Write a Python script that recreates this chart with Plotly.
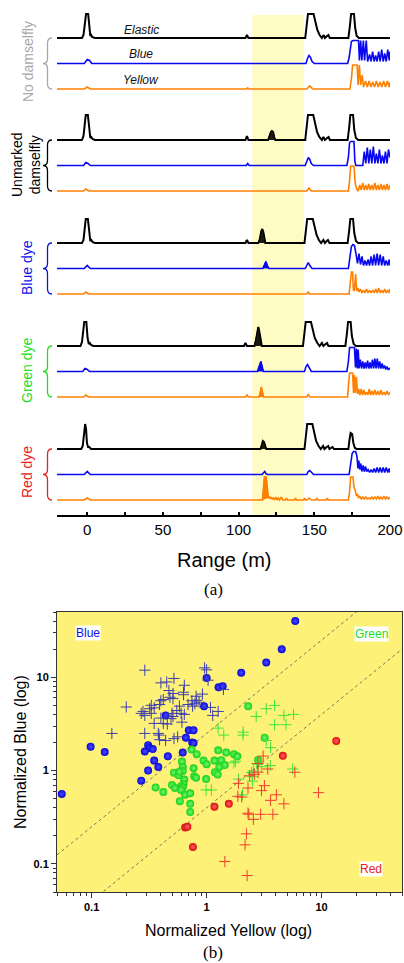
import plotly.graph_objects as go

W, H = 404, 963

# ---------------- Panel (a): lidar range profiles (amplitude vs range) ----------------
E1 = [(-20,0),(-3.5,0),(-2.5,3),(-1.5,16),(-0.8,24),(0.6,24),(1.5,10),(2,2),(2.6,3),(3.2,1),(5,0),
      (104.5,0),(105.5,3),(106.5,0),
      (144,0),(145,14),(145.8,24),(149.5,24),(150.5,17),(152,8),(153.5,3),(155,0),(156.2,3),(157,0),(158.4,2),(159.3,3),(160.2,0),
      (172.5,0),(173.5,12),(174.3,24),(176.2,24),(177,10),(178,2),(179.5,0),(200,0)]
B1 = [(-20,0),(-2,0),(0,4),(1.5,3),(3,0),(144.5,0),(145.5,5),(146.5,8),(147.5,6),(148.5,2),(150,0),
      (172,0),(173,6),(174.5,22),(175.5,23),(179.2,23),(179.8,3),(180.6,23),(181.4,3),(182.4,23),(183.2,3),(184.3,23),(185.2,2),
      (186.5,9),(187.5,2),(188.5,12),(189.5,2),(190.5,8),(191.5,2),(192.5,12),(193.5,2),(194.5,14),(195.5,2),(196.5,10),(197.5,2),(198.5,14),(199.5,3),(200,12)]
Y1 = [(-20,0),(-2,0),(0,2),(2,0),(105,0),(106,1),(107,0),(145,0),(147,3),(149,0),
      (173.5,0),(174.5,10),(175.3,24),(178.3,24),(178.9,4),(179.8,24),(180.6,4),(181.6,14),(182.5,2),(183.8,8),(185,2),
      (186.2,8),(187.4,2),(188.6,7),(189.8,2),(191,8),(192.2,2),(193.4,7),(194.6,2),(195.8,8),(197,2),(198.2,8),(199.4,2),(200,7)]

E2 = [(-20,0),(-3.5,0),(-2.5,4),(-1.8,17),(-1,25),(0.4,25),(1.3,8),(2,2),(2.7,3),(3.5,1),(5,0),
      (104.5,0),(105.5,4),(106.5,0),
      (119.5,0),(120.5,5),(121.3,8),(122,9),(122.8,8),(123.5,3),(124.2,0),
      (144,0),(145,14),(145.8,25),(149.3,25),(150.3,17),(151.8,8),(153.3,3),(155,0),(156,3),(157,0),(158.5,2),(159.4,3),(160.3,0),
      (172,0),(173,12),(173.8,25),(175.6,25),(176.4,10),(177.5,2),(179,0),(200,0)]
B2 = [(-20,0),(-2.5,0),(-1,3),(0.5,2),(2,0),(105,0),(106,2),(107,0),(144,0),(145,5),(146,8),(147,6),(148,2),(149.5,0),
      (171.5,0),(172.5,8),(173.3,23),(174,24),(176.2,24),(176.8,4),(177.5,0),(182,0),
      (183,14),(184,2),(185,18),(186,2),(187,16),(188,2),(189,19),(190,2),(191,12),(192,2),(193,16),(194,2),
      (195,10),(196,2),(197,14),(198,2),(199,16),(200,8)]
Y2 = [(-20,0),(-2.5,0),(-1,2),(1,0),(145,0),(146.5,3),(148,0),
      (172.5,0),(173.3,10),(174,25),(176.2,25),(177,8),(178,2),(179,0),(180,6),(181,1),(182,8),(183,1),(184,6),(185,1),
      (186,7),(187,1),(188,6),(189,1),(190,8),(191,1),(192,6),(193,1),(194,7),(195,1),(196,6),(197,1),(198,7),(199,1),(200,6)]

E3 = [(-20,0),(-3.5,0),(-2.5,3),(-1.8,16),(-1,24),(0.4,24),(1.3,8),(2,2),(2.7,3),(3.5,1),(5,0),
      (104.5,0),(105.5,3),(106.5,0),
      (113,0),(114,4),(115,12),(115.6,14),(116.3,11),(117,3),(117.6,0),
      (143.5,0),(144.5,14),(145.3,24),(149,24),(150,17),(151.5,8),(153,3),(154.5,0),(156,3),(157,0),(158.2,2),(159,3),(160,0),
      (172,0),(173,12),(173.8,24),(175.6,24),(176.4,10),(177.5,2),(179,0),(200,0)]
B3 = [(-20,0),(-2,0),(0,3),(2,0),(116,0),(117,4),(118,7),(119,3),(120,0),(144,0),(145,4),(146,6),(147,3),(148.5,0),
      (172.5,0),(173.5,10),(174.5,22),(175.5,24),(176.5,23),(177.5,15),(178.5,5),(179.5,15),(180.5,4),(181.5,12),(182.5,3),
      (183.5,8),(184.5,3),(185.5,9),(186.5,3),(187.5,12),(188.5,3),(189.5,14),(190.5,3),(191.5,15),(192.5,3),(193.5,14),
      (194.5,3),(195.5,12),(196.5,3),(197.5,8),(198.5,3),(199.5,9),(200,3)]
Y3 = [(-20,0),(-2.5,0),(-1,2),(1,0),(145,0),(146,2),(147,0),
      (173,0),(173.8,12),(174.5,22),(175.3,22),(175.8,4),(176.5,3),(177.3,20),(178,3),(178.8,6),(179.5,2),(180.5,5),(181.5,1),
      (182.5,4),(183.5,1),(184.5,5),(185.5,1),(186.5,4),(187.5,1),(188.5,4),(189.5,1),(190.5,5),(191.5,1),(192.5,6),(193.5,1),
      (194.5,4),(195.5,1),(196.5,5),(197.5,1),(198.5,4),(199.5,1),(200,5)]

E4 = [(-20,0),(-4.5,0),(-3.5,4),(-2.8,16),(-2,24),(-0.6,24),(0.2,8),(1,2),(1.7,3),(2.5,1),(4,0),
      (103.5,0),(104.5,3),(105.5,0),
      (110.5,0),(111.5,6),(112.5,15),(113,19),(113.7,14),(114.5,4),(115.3,0),
      (142.5,0),(143.5,14),(144.3,24),(147.8,24),(148.8,17),(150.3,8),(152,3),(153.5,0),(155,3),(156,0),(157.5,2),(158.4,3),(159.3,0),
      (170.5,0),(171.5,12),(172.3,24),(174,24),(174.8,10),(176,2),(177.5,0),(200,0)]
B4 = [(-20,0),(-3,0),(-1.5,3),(0,2),(1.5,0),(112.5,0),(113.5,5),(114.7,10),(115.5,5),(116.3,0),
      (143.5,0),(144.5,5),(145.5,7),(146.5,4),(148,0),
      (171.5,0),(172.5,10),(173.3,24),(176.5,24),(177.2,4),(177.8,23),(178.4,3),(179,22),(179.6,3),(180.4,12),(181.2,3),
      (182,10),(182.8,3),(183.6,9),(184.4,3),(185.2,11),(186,3),(186.8,9),(187.6,3),(188.4,12),(189.2,3),(190,13),(190.8,3),
      (191.6,13),(192.4,3),(193.2,10),(194,3),(194.8,8),(195.6,3),(196.4,6),(197.2,2),(198,5),(198.8,2),(199.6,3),(200,2)]
Y4 = [(-20,0),(-2.5,0),(-1,2),(1,0),(104.5,0),(105.5,2),(106.5,0),(113.5,0),(114.3,4),(115,10),(115.7,5),(116.5,0),
      (145,0),(146,3),(147,0),
      (172,0),(172.7,14),(173.3,24),(175.3,24),(175.9,4),(176.5,22),(177.1,4),(177.8,20),(178.5,3),(179.3,8),(180.1,2),
      (181,8),(181.8,2),(182.7,7),(183.6,2),(184.5,5),(185.4,2),(186.3,8),(187.2,2),(188.1,6),(189,2),(190,7),(191,2),
      (192,6),(193,2),(194,7),(195,2),(196,5),(197,2),(198,6),(199,2),(200,5)]

E5 = [(-20,0),(-4,0),(-3,3),(-2.3,15),(-1.4,25),(-0.8,20),(-0.2,6),(0.5,2),(1.3,2),(2.5,0),
      (114.5,0),(115.3,4),(116,8),(116.8,7),(117.5,3),(118.2,0),
      (143.5,0),(144.5,14),(145.3,25),(148.7,25),(149.7,17),(151.2,8),(152.8,3),(154.3,0),(155.8,3),(156.7,0),(158.2,2),
      (159.2,3),(160,0),(162,2),(163,0),
      (172.5,0),(173.3,10),(174,16),(175,15),(175.8,6),(176.8,1),(178,0),(200,0)]
B5 = [(-20,0),(-2,0),(0,3),(2,0),(115.5,0),(116.5,2),(117.3,3),(118,1),(119,0),(145,0),(146,3),(147,4),(148,2),(149.5,0),
      (173,0),(174,10),(175,21),(176,23),(177.3,23),(178.2,18),(178.8,6),(179.4,14),(180,5),(180.7,11),(181.4,3),(182.2,9),
      (183,3),(183.8,8),(184.6,3),(185.5,5),(186.5,2),(187.5,5),(188.5,2),(189.5,6),(190.5,2),(191.5,7),(192.5,2),
      (193.5,7),(194.5,2),(195.5,7),(196.5,2),(197.5,7),(198.5,2),(199.5,6),(200,2)]
Y5 = [(-20,0),(-2,0),(0,2),(2,0),
      (115.8,0),(116.5,12),(117,23),(118.2,23),(119,10),(119.6,2),(120.4,3),(121,1),(121.6,3),(122.2,1),(123,2),(123.6,0),
      (124.5,3),(125.3,0),(126.2,2),(127,0),(128.3,3),(129.2,0),(131,0),(131.7,2),(132.4,0),(137,0),(137.6,2),(138.3,0),
      (143,0),(143.6,2),(144.2,0),(145,0),(146.5,2),(148,0),(151,0),(151.6,2),(152.3,0),(158,0),(158.6,2),(159.3,0),
      (172.5,0),(173.3,8),(174,23),(175.5,23),(176.3,12),(177,10),(177.8,4),(178.5,6),(179.2,2),(180,4),(181,1),(182,3),
      (183,1),(184,3),(185,1),(186,2),(187,1),(188,3),(189,1),(190,3),(191,1),(192,4),(193,1),(194,3),(195,1),(196,4),
      (197,1),(198,3),(199,1),(200,3)]

GROUPS = ["No damselfly", "Unmarked<br>damselfly", "Blue dye", "Green dye", "Red dye"]
GROUP_COLORS = ["#A8A8A8", "#000000", "#1010E8", "#22DD22", "#E82020"]
SIGNALS = [[E1, B1, Y1], [E2, B2, Y2], [E3, B3, Y3], [E4, B4, Y4], [E5, B5, Y5]]
# filled (dye-return) peaks: (group, channel, start, end)
FILLED = [(1, 0, 119.5, 124.2), (2, 0, 113, 117.6), (2, 1, 116, 120), (3, 0, 110.5, 115.3),
          (3, 1, 112.5, 116.3), (3, 2, 113.5, 116.5), (4, 0, 114.5, 118.2), (4, 2, 115.8, 119.6)]
CHANNELS = ["Elastic", "Blue", "Yellow"]
CH_COLORS = ["#000000", "#0808F0", "#FF8000"]
CH_WIDTH = [2.0, 1.6, 1.6]
BAND = (109, 143)

# ---------------- Panel (b): normalized scatter ----------------
BLUE_DOT_X = [5.9, 4.5, 3.3, 2.0, 1.0, 1.27, 1.38, 0.95, 0.44, 0.70, 0.77, 0.66, 0.75, 0.77, 0.31, 0.32, 0.29, 0.34,
              0.62, 0.098, 0.13, 0.46, 0.35, 0.38, 0.31, 0.27, 0.055]
BLUE_DOT_Y = [40, 20, 14.4, 11.2, 9.8, 7.8, 8.0, 4.9, 3.9, 2.7, 2.7, 2.25, 2.0, 1.97, 1.87, 1.75, 1.6, 1.7,
              1.56, 1.8, 1.58, 1.42, 1.28, 1.09, 1.0, 0.78, 0.56]
BLUE_PLUS_X = [0.29, 0.96, 1.0, 1.03, 0.52, 0.45, 0.40, 0.64, 1.4, 0.47, 0.51, 0.51, 0.48, 0.63, 0.63, 0.92, 0.81, 0.82,
               0.745, 0.79, 0.86, 0.755, 0.69, 0.40, 0.42, 0.39, 0.33, 0.35, 0.32, 0.33, 0.28, 0.27, 0.29, 0.58, 0.55,
               0.60, 0.64, 0.61, 0.50, 0.49, 0.51, 1.08, 1.26, 1.13, 0.40, 0.42, 0.455, 0.35, 0.20, 0.15, 0.29, 0.38,
               0.39, 0.385, 0.52, 0.56, 0.44]
BLUE_PLUS_Y = [11.9, 12.6, 12.0, 9.3, 9.7, 8.9, 8.7, 8.2, 7.4, 7.2, 6.7, 5.9, 6.1, 6.9, 6.5, 6.6, 6.25, 5.66,
               5.6, 5.2, 5.4, 4.9, 5.1, 5.6, 5.76, 5.1, 5.0, 4.7, 4.6, 4.1, 4.3, 4.1, 3.9, 4.9, 4.4,
               4.1, 4.0, 3.3, 4.1, 3.6, 3.8, 4.75, 4.3, 3.9, 3.65, 3.2, 3.15, 3.2, 4.8, 2.5, 2.5, 2.5,
               2.14, 2.4, 2.2, 2.3, 2.1]
GREEN_DOT_X = [2.3, 3.2, 2.8, 0.74, 0.82, 0.61, 1.26, 1.48, 1.73, 1.85, 0.94, 1.0, 1.17, 1.34, 1.44, 0.77, 0.62, 0.62,
               0.52, 0.57, 0.58, 1.29, 1.18, 1.25, 0.78, 0.81, 0.99, 0.64, 0.63, 0.60, 0.62, 0.50, 0.53, 0.36, 0.42,
               0.60, 0.65, 0.72, 0.585, 0.72, 0.72]
GREEN_DOT_Y = [4.9, 2.25, 1.3, 1.68, 1.5, 1.25, 1.65, 1.56, 1.5, 1.42, 1.28, 1.17, 1.28, 1.29, 1.15, 1.06, 1.09, 0.99,
               0.95, 0.89, 0.97, 1.09, 0.96, 0.91, 0.87, 0.84, 0.81, 0.8, 0.72, 0.68, 0.66, 0.70, 0.65, 0.66, 0.59,
               0.62, 0.55, 0.57, 0.47, 0.44, 0.36]
GREEN_PLUS_X = [3.9, 3.3, 2.7, 4.7, 5.7, 3.9, 4.9, 1.26, 2.08, 2.07, 1.41, 3.3, 3.6, 1.73, 1.78, 2.77, 2.73, 2.99,
                3.58, 5.6, 2.46, 2.55, 2.5, 1.9, 2.5, 0.99, 1.1, 2.05]
GREEN_PLUS_Y = [4.99, 4.6, 3.8, 3.9, 4.0, 3.1, 3.1, 2.85, 2.58, 2.4, 2.4, 2.1, 1.76, 1.21, 1.26, 1.17, 1.19, 1.1,
                1.13, 1.04, 0.95, 0.99, 0.86, 0.81, 0.77, 0.62, 0.62, 0.55]
RED_DOT_X = [13.4, 4.6, 1.17, 1.56, 0.65, 0.68, 0.76]
RED_DOT_Y = [2.08, 1.44, 0.41, 0.44, 0.245, 0.25, 0.152]
RED_PLUS_X = [3.1, 2.8, 3.4, 5.85, 2.8, 2.6, 2.37, 1.89, 2.29, 3.18, 3.0, 1.87, 2.02, 4.04, 3.6, 4.7, 9.4, 2.29, 2.33,
              2.95, 3.77, 2.55, 2.22, 2.16, 1.44, 2.25]
RED_PLUS_Y = [1.43, 1.19, 1.04, 0.96, 0.96, 0.91, 0.88, 0.73, 0.65, 0.69, 0.61, 0.53, 0.52, 0.55, 0.48, 0.44, 0.58, 0.35,
              0.34, 0.34, 0.34, 0.30, 0.21, 0.16, 0.106, 0.075]
DIVIDER_RATIOS = [2.5, 0.4]
B_RANGE = [0.05, 50]
B_TICKS = [0.1, 1, 10]

SANS = "Arial, Liberation Sans, sans-serif"
SERIF = "Times New Roman, Liberation Serif, serif"


def px(x):
    return x / W


def py(y):
    return 1 - y / H


# layout geometry (pixels)
A_LEFT, A_RIGHT, A_TOP, A_BOTTOM = 57, 390, 5, 515
B_LEFT, B_RIGHT, B_TOP, B_BOTTOM = 57, 402, 612, 892
GROUP_BASE = [38, 140, 243, 346, 449]
CH_STEP = 25.5

fig = go.Figure()

for g, sigs in enumerate(SIGNALS):
    for c, sig in enumerate(sigs):
        base = -(GROUP_BASE[g] + c * CH_STEP)
        xs = [p[0] for p in sig]
        ys = [base + p[1] for p in sig]
        fig.add_trace(go.Scatter(x=xs, y=ys, mode="lines", xaxis="x", yaxis="y",
                                 line=dict(color=CH_COLORS[c], width=CH_WIDTH[c]),
                                 showlegend=False, hoverinfo="skip"))

for g, c, a, b in FILLED:
    base = -(GROUP_BASE[g] + c * CH_STEP)
    pts = [p for p in SIGNALS[g][c] if a <= p[0] <= b]
    fig.add_trace(go.Scatter(x=[p[0] for p in pts], y=[base + p[1] for p in pts], mode="lines",
                             fill="toself", fillcolor=CH_COLORS[c] if c else "#1A1A10",
                             line=dict(color=CH_COLORS[c], width=1), xaxis="x", yaxis="y",
                             showlegend=False, hoverinfo="skip"))

# panel (b) traces
for xs, ys, col, light in [(BLUE_DOT_X, BLUE_DOT_Y, "#0808D8", "#4A4AFF"),
                           (GREEN_DOT_X, GREEN_DOT_Y, "#18D018", "#70F870"),
                           (RED_DOT_X, RED_DOT_Y, "#E00C0C", "#FF6060")]:
    fig.add_trace(go.Scatter(x=xs, y=ys, mode="markers", xaxis="x2", yaxis="y2",
                             marker=dict(symbol="circle", size=8, color=col,
                                         gradient=dict(type="radial", color=light),
                                         line=dict(width=0)),
                             showlegend=False, hoverinfo="skip"))
for xs, ys, col in [(BLUE_PLUS_X, BLUE_PLUS_Y, "#3C3CB4"),
                    (GREEN_PLUS_X, GREEN_PLUS_Y, "#3CE63C"),
                    (RED_PLUS_X, RED_PLUS_Y, "#F23C2C")]:
    fig.add_trace(go.Scatter(x=xs, y=ys, mode="markers", xaxis="x2", yaxis="y2",
                             marker=dict(symbol="cross-thin", size=8, line=dict(color=col, width=1)),
                             showlegend=False, hoverinfo="skip"))
for r in DIVIDER_RATIOS:
    fig.add_trace(go.Scatter(x=B_RANGE, y=[r * v for v in B_RANGE], mode="lines", xaxis="x2", yaxis="y2",
                             line=dict(color="#555555", width=0.8, dash="dot"),
                             showlegend=False, hoverinfo="skip"))

shapes = [
    dict(type="rect", xref="x", yref="y", x0=BAND[0], x1=BAND[1], y0=-A_BOTTOM, y1=-15,
         fillcolor="#FFFBC4", line=dict(width=0), layer="below"),
    dict(type="rect", xref="x2 domain", yref="y2 domain", x0=0, x1=1, y0=0, y1=1,
         fillcolor="#FDF277", line=dict(width=0), layer="below"),
]


def brace(yt, ym, yb, color):
    xr, xm, xl = 52, 47.5, 43
    r = 5
    seg = [("M", [(xr, yt)]), ("Q", [(xm, yt), (xm, yt + r)]), ("L", [(xm, ym - r)]),
           ("Q", [(xm, ym), (xl, ym)]), ("Q", [(xm, ym), (xm, ym + r)]), ("L", [(xm, yb - r)]),
           ("Q", [(xm, yb), (xr, yb)])]
    path = " ".join(cmd + " " + " ".join(f"{px(x):.5f},{py(y):.5f}" for x, y in pts) for cmd, pts in seg)
    return dict(type="path", xref="paper", yref="paper", path=path, line=dict(color=color, width=1.3))


for g in range(5):
    yt = GROUP_BASE[g]
    shapes.append(brace(yt, yt + CH_STEP, yt + 2 * CH_STEP, GROUP_COLORS[g]))


def note(x, y, text, **kw):
    d = dict(x=px(x), y=py(y), xref="paper", yref="paper", text=text, showarrow=False,
             xanchor="center", yanchor="middle")
    d.update(kw)
    return d


annotations = []
for c, (name, yy) in enumerate(zip(CHANNELS, [30, 54, 80])):
    annotations.append(note(141, yy, name, font=dict(family=SANS, size=12, color="#111111", style="italic")))
for g, (name, cx, cy) in enumerate(zip(GROUPS, [28, 26, 27, 27, 27], [62, 165, 268, 370, 472])):
    annotations.append(note(cx, cy, name, textangle=-90,
                            font=dict(family=SANS, size=14, color=GROUP_COLORS[g])))
annotations += [
    note(224, 560, "Range (m)", font=dict(family=SANS, size=20, color="black")),
    note(213, 589, "(a)", font=dict(family=SERIF, size=17, color="black")),
    note(229, 930, "Normalized Yellow (log)", font=dict(family=SANS, size=16, color="black")),
    note(20, 752, "Normalized Blue (log)", textangle=-90, font=dict(family=SANS, size=16, color="black")),
    note(213, 952, "(b)", font=dict(family=SERIF, size=17, color="black")),
    note(88, 633, "Blue", bgcolor="white", borderpad=0, font=dict(family=SANS, size=12, color="#1010E8")),
    note(371, 634, "Green", bgcolor="white", borderpad=0, font=dict(family=SANS, size=12, color="#22DD22")),
    note(371, 869, "Red", bgcolor="white", borderpad=0, font=dict(family=SANS, size=12, color="#E82020")),
]

minor_vals = [m * 10 ** e for e in (-2, -1, 0, 1) for m in range(2, 10)
              if B_RANGE[0] <= m * 10 ** e <= B_RANGE[1]]

log_axis = dict(type="log", range=[-1.30103, 1.69897], showgrid=False, zeroline=False, automargin=False,
                showline=True, linecolor="#333333", linewidth=1, mirror=True,
                ticks="outside", ticklen=5, tickcolor="#333333", tickvals=B_TICKS, ticktext=["0.1", "1", "10"],
                tickfont=dict(family=SANS, size=11, color="black", weight="bold"),
                minor=dict(ticks="outside", ticklen=3, tickcolor="#333333", tickvals=minor_vals))

fig.update_layout(
    width=W, height=H, margin=dict(l=0, r=0, t=0, b=0, pad=0), autosize=False,
    paper_bgcolor="white", plot_bgcolor="rgba(0,0,0,0)", showlegend=False,
    xaxis=dict(domain=[px(A_LEFT), px(A_RIGHT)], range=[-20, 200], anchor="y", automargin=False,
               showgrid=False, zeroline=False, showline=True, linecolor="black", linewidth=2,
               ticks="inside", ticklen=3, tickwidth=1.5, tickcolor="black", tickvals=[0, 50, 100, 150, 200],
               minor=dict(ticks="inside", ticklen=3, tickcolor="black", tickvals=[-25, 25, 75, 125, 175]),
               tickfont=dict(family=SANS, size=15, color="black")),
    yaxis=dict(domain=[py(A_BOTTOM), py(A_TOP)], range=[-A_BOTTOM, -A_TOP], anchor="x", automargin=False,
               visible=False, showgrid=False, zeroline=False),
    xaxis2=dict(domain=[px(B_LEFT), px(B_RIGHT)], anchor="y2", **log_axis),
    yaxis2=dict(domain=[py(B_BOTTOM), py(B_TOP)], anchor="x2", **log_axis),
    shapes=shapes, annotations=annotations,
)

fig.write_html("out.html", config={"displayModeBar": False},
               post_script="document.body.style.margin='0';document.body.style.padding='0';")
